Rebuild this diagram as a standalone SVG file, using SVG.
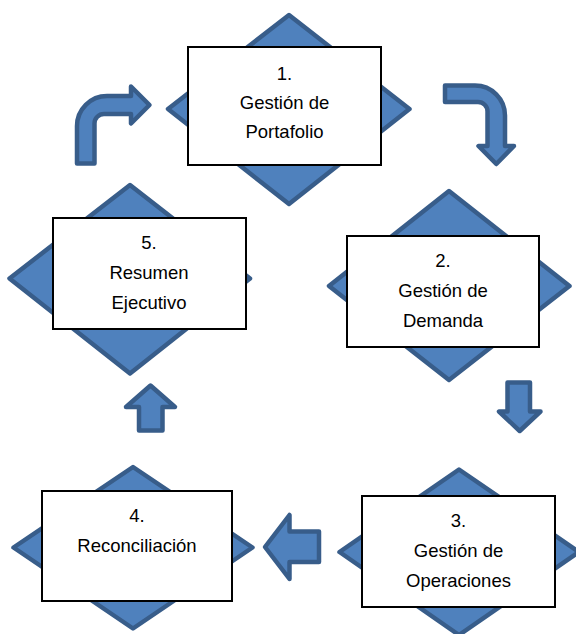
<svg xmlns="http://www.w3.org/2000/svg" width="576" height="634" viewBox="0 0 576 634">
<style>
.dia{fill:#4F81BD;stroke:#385D8A;stroke-width:4.5;stroke-linejoin:round}
.arr{fill:#4F81BD;stroke:#385D8A;stroke-width:4.5;stroke-linejoin:round}
.box{fill:#FFFFFF;stroke:#000000;stroke-width:2}
.lbl{font-family:"Liberation Sans",Arial,sans-serif;font-size:18.5px;fill:#000000;text-anchor:middle}
</style>
<rect width="576" height="634" fill="#FFFFFF"/>
<g id="connectors">
<path class="arr" d="M77,163.5 L77,126 A30,30 0 0 1 107,96 L131,96 L131,86.5 L149.5,105 L131,123.5 L131,114 L104,114 A9.5,9.5 0 0 0 94.5,123.5 L94.5,163.5 Z"/>
<path class="arr" d="M445,85.5 L475,85.5 A30,30 0 0 1 505,115.5 L505,146 L514,146 L496.3,164 L478.5,146 L487.5,146 L487.5,111.5 A9.5,9.5 0 0 0 478,102 L445,102 Z"/>
<path class="arr" d="M507.5,382.5 L530,382.5 L530,411.5 L540.5,411.5 L519.7,431 L499,411.5 L507.5,411.5 Z"/>
<path class="arr" d="M265,547 L289.5,515 L289.5,531.5 L319,531.5 L319,562 L289.5,562 L289.5,579 Z"/>
<path class="arr" d="M150.5,385.5 L175,407 L162.5,407 L162.5,430.5 L139,430.5 L139,407 L126,407 Z"/>
</g>
<g id="node1">
<polygon class="dia" points="289,15 409.5,109 289,204 168,109"/>
<rect class="box" x="188" y="47" width="193" height="118"/>
<text class="lbl" x="284.5" y="80">1.</text>
<text class="lbl" x="284.5" y="109">Gestión de</text>
<text class="lbl" x="284.5" y="138">Portafolio</text>
</g>
<g id="node2">
<polygon class="dia" points="449,191 569.5,286 449,380 329,286"/>
<rect class="box" x="347" y="236" width="192" height="111"/>
<text class="lbl" x="443" y="267">2.</text>
<text class="lbl" x="443" y="297">Gestión de</text>
<text class="lbl" x="443" y="327">Demanda</text>
</g>
<g id="node3">
<polygon class="dia" points="459,469.5 579,552 459,635 339.5,552"/>
<rect class="box" x="362" y="496" width="193" height="111"/>
<text class="lbl" x="458.5" y="527">3.</text>
<text class="lbl" x="458.5" y="557">Gestión de</text>
<text class="lbl" x="458.5" y="587">Operaciones</text>
</g>
<g id="node4">
<polygon class="dia" points="133,467 252.5,547.5 133,628.5 13.5,547.5"/>
<rect class="box" x="42" y="491" width="190" height="110"/>
<text class="lbl" x="137" y="522">4.</text>
<text class="lbl" x="137" y="552">Reconciliación</text>
</g>
<g id="node5">
<polygon class="dia" points="130,185 250,278.5 130,373.5 9.5,278.5"/>
<rect class="box" x="53" y="218" width="193" height="111"/>
<text class="lbl" x="149" y="249">5.</text>
<text class="lbl" x="149" y="279">Resumen</text>
<text class="lbl" x="149" y="309">Ejecutivo</text>
</g>
</svg>
